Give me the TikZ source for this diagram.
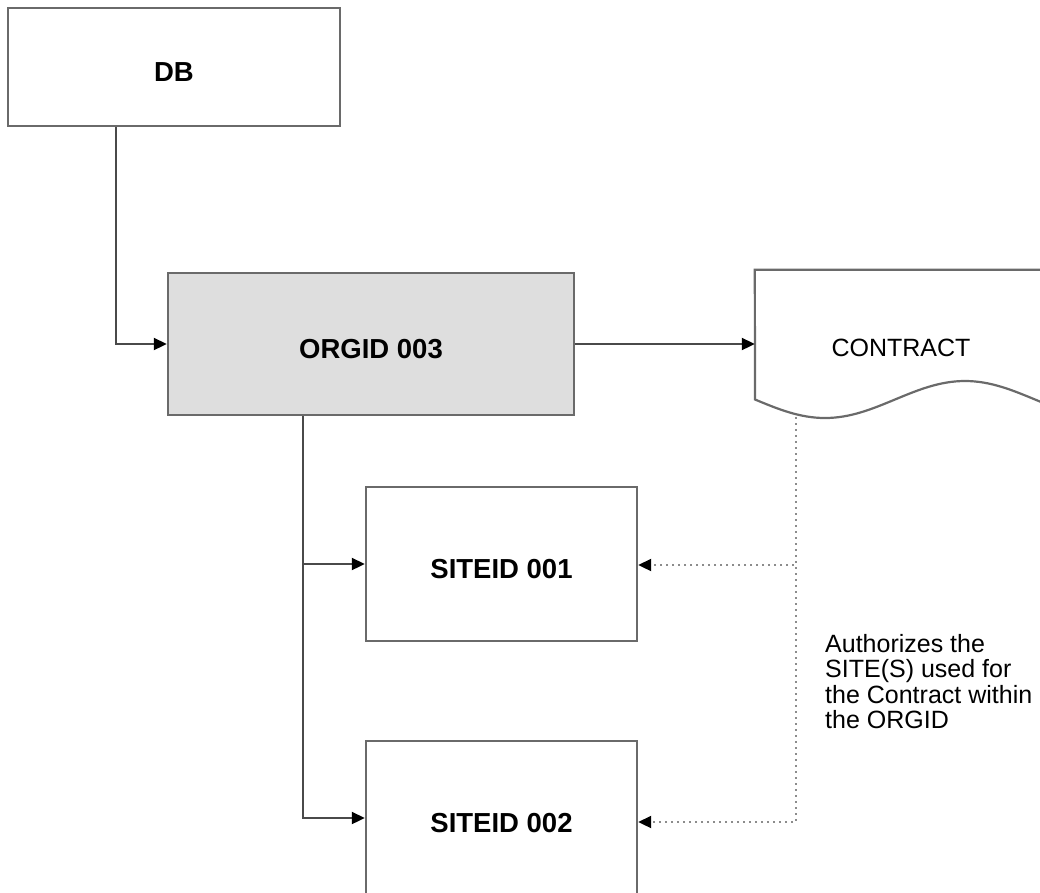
\documentclass[tikz,border=0pt]{standalone}
\usepackage{fontspec}
\setmainfont{Liberation Sans}
\usetikzlibrary{arrows.meta,calc}

\definecolor{boxline}{HTML}{6A6A6A}
\definecolor{wireline}{HTML}{4A4A4A}
\definecolor{dotline}{HTML}{8C8C8C}
\definecolor{orgfill}{HTML}{DEDEDE}

\tikzset{
  entity/.style={draw=boxline, line width=2.4pt, fill=white, inner sep=0pt,
    font=\fontsize{27.5}{33}\selectfont\bfseries,
    text height=28.7pt, text depth=0pt},
  wire/.style={draw=wireline, line width=2pt,
    -{Triangle[length=13pt,width=12pt,color=black]}},
  authwire/.style={draw=dotline, line width=2pt, dash pattern=on 2pt off 4pt,
    -{Triangle[length=13pt,width=12pt,color=black]}},
  plain/.style={font=\fontsize{25}{25.5}\selectfont},
}

\begin{document}
\begin{tikzpicture}[x=1pt,y=-1pt]
  \useasboundingbox (0,0) rectangle (1040,892);
  \clip (0,0) rectangle (1040,892);

  % boxes
  \node[entity, minimum width=332pt, minimum height=118pt] (db) at (174,67) {DB};
  \node[entity, fill=orgfill, minimum width=406pt, minimum height=142pt] (orgid) at (371,344) {ORGID 003};
  \node[entity, minimum width=271pt, minimum height=154pt] (site1) at (501.5,564) {SITEID 001};
  \node[entity, minimum width=271pt, minimum height=154pt] (site2) at (501.5,818) {SITEID 002};

  % contract document, wavy lower edge
  \node[minimum width=350pt, minimum height=148pt, inner sep=0pt] (contract) at (930,344) {};
  \draw[draw=boxline, line width=2.2pt, fill=white]
    (contract.north west) -- (755,399.5)
    sin (825,418) cos (895,399.5) sin (965,381) cos (1035,399.5) sin (1105,418)
    -- (contract.north east) -- cycle;
  \node[plain] (contractlabel) at (901,348) {CONTRACT};

  % hierarchy connectors
  \draw[wire] ([xshift=109pt]db.south west) |- (orgid.west);
  \draw[wire] (orgid.east) -- (contract.west);
  \draw[wire] ([xshift=136pt]orgid.south west) |- (site1.west);
  \draw[wire] ([xshift=136pt]orgid.south west) |- (site2.west);

  % authorization links from the contract
  \coordinate (tap) at (796,417);
  \draw[authwire] (tap) |- ([yshift=-1pt]site1.east);
  \draw[authwire] (tap) |- ([yshift=-4pt]site2.east);

  \node[plain, anchor=north west, align=left, inner sep=0pt] (note) at (825,634)
    {Authorizes the\\SITE(S) used for\\the Contract within\\the ORGID};
\end{tikzpicture}
\end{document}
